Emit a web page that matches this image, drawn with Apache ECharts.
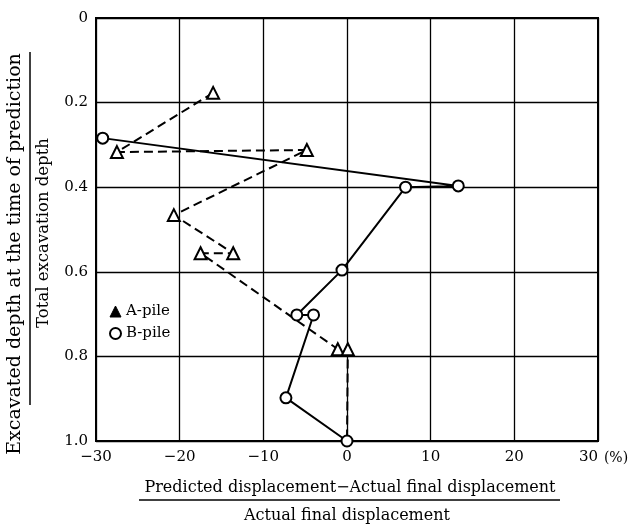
<!DOCTYPE html>
<html><head><meta charset="utf-8">
<script src="https://cdn.jsdelivr.net/npm/echarts@6/dist/echarts.min.js"></script>
<style>html,body{margin:0;padding:0;background:#fff}#c{width:634px;height:526px}</style>
</head><body><div id="c"></div>
<script>
// A-pile (triangles, dashed)
const aX = [-16, -27.5, -4.8, -20.7, -13.6, -17.5, -1.1, 0.1, 0];
const aY = [0.177, 0.317, 0.312, 0.466, 0.556, 0.556, 0.783, 0.783, 1.0];
// B-pile (circles, solid)
const bX = [-29.2, 13.3, 7.0, -0.6, -6.0, -4.0, -7.3, 0];
const bY = [0.284, 0.397, 0.400, 0.596, 0.702, 0.702, 0.898, 1.0];
const xTicks = [-30, -20, -10, 0, 10, 20, 30];
const yTicks = [0, 0.2, 0.4, 0.6, 0.8, 1.0];

const FONT = 'DejaVu Serif';
const aData = aX.map((x, i) => i === aX.length - 1 ? {value: [x, aY[i]], symbol: 'none'} : [x, aY[i]]);
const bData = bX.map((x, i) => [x, bY[i]]);

const chart = echarts.init(document.getElementById('c'));
chart.setOption({
  animation: false,
  backgroundColor: '#fff',
  grid: {left: 96, top: 18, right: 36, bottom: 85, show: true, borderColor: '#000', borderWidth: 2},
  xAxis: {
    type: 'value', min: xTicks[0], max: xTicks[xTicks.length - 1], interval: 10,
    axisLine: {show: false, onZero: false}, axisTick: {show: false},
    splitLine: {show: true, lineStyle: {color: '#000', width: 1.3}},
    axisLabel: {margin: 9, color: '#000', fontFamily: FONT, fontSize: 15, alignMaxLabel: 'right',
      formatter: v => v < 0 ? '\u2212' + Math.abs(v) : String(v)},
    name: '(%)', nameLocation: 'end', nameGap: 5,
    nameTextStyle: {color: '#000', fontFamily: FONT, fontSize: 14, verticalAlign: 'top', padding: [10, 0, 0, 0]}
  },
  yAxis: {
    type: 'value', min: yTicks[0], max: yTicks[yTicks.length - 1], interval: 0.2, inverse: true,
    axisLine: {show: false, onZero: false}, axisTick: {show: false},
    splitLine: {show: true, lineStyle: {color: '#000', width: 1.3}},
    axisLabel: {margin: 8, color: '#000', fontFamily: FONT, fontSize: 15,
      formatter: v => v === 0 ? '0' : v.toFixed(1)}
  },
  legend: {
    orient: 'vertical', left: 104, top: 299, itemGap: 7, itemWidth: 11, itemHeight: 11,
    textStyle: {color: '#000', fontFamily: FONT, fontSize: 15},
    data: [
      {name: 'A-pile', icon: 'triangle', itemStyle: {color: '#000', borderColor: '#000', borderWidth: 1}},
      {name: 'B-pile', icon: 'circle', itemStyle: {color: '#fff', borderColor: '#000', borderWidth: 2}}
    ]
  },
  series: [
    {name: 'A-pile', type: 'line', data: aData, symbol: 'triangle', symbolSize: 12,
      lineStyle: {color: '#000', width: 2, type: [9, 5]},
      itemStyle: {color: '#fff', borderColor: '#000', borderWidth: 2}, z: 3},
    {name: 'B-pile', type: 'line', data: bData, symbol: 'circle', symbolSize: 11,
      lineStyle: {color: '#000', width: 2},
      itemStyle: {color: '#fff', borderColor: '#000', borderWidth: 2}, z: 4}
  ],
  graphic: [
    {type: 'text', x: 350, y: 488, style: {text: 'Predicted displacement\u2212Actual final displacement', fontFamily: FONT, fontSize: 16, fill: '#000', textAlign: 'center', textVerticalAlign: 'middle'}},
    {type: 'line', shape: {x1: 139, y1: 500, x2: 560, y2: 500}, style: {stroke: '#000', lineWidth: 1.5}},
    {type: 'text', x: 347, y: 516, style: {text: 'Actual final displacement', fontFamily: FONT, fontSize: 16, fill: '#000', textAlign: 'center', textVerticalAlign: 'middle'}},
    {type: 'text', x: 15, y: 254, rotation: Math.PI / 2, style: {text: 'Excavated depth at the time of prediction', fontFamily: FONT, fontSize: 19, fill: '#000', textAlign: 'center', textVerticalAlign: 'middle'}},
    {type: 'line', shape: {x1: 30, y1: 52, x2: 30, y2: 405}, style: {stroke: '#000', lineWidth: 1.5}},
    {type: 'text', x: 44, y: 233, rotation: Math.PI / 2, style: {text: 'Total excavation depth', fontFamily: FONT, fontSize: 16.5, fill: '#000', textAlign: 'center', textVerticalAlign: 'middle'}}
  ]
});
</script></body></html>
